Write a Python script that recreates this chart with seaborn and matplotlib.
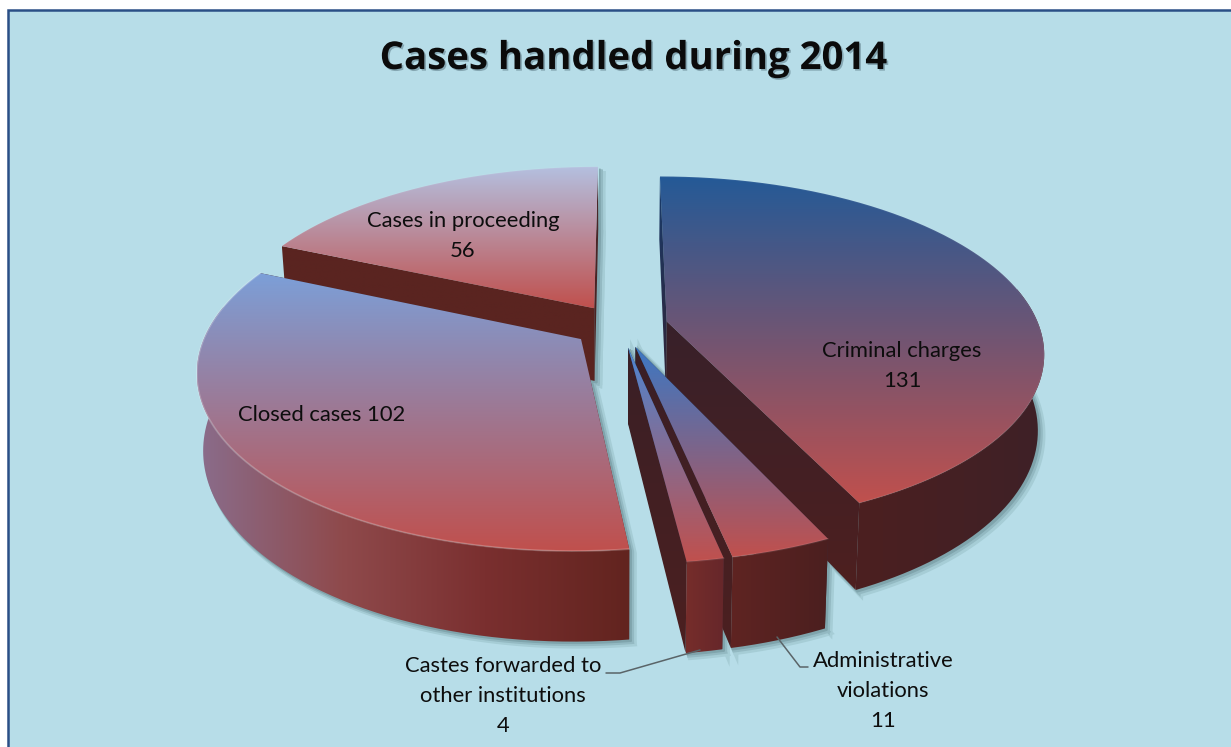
import numpy as np
import matplotlib
matplotlib.use("Agg")
import matplotlib.pyplot as plt
import matplotlib.patheffects as pe
from matplotlib.patches import PathPatch, Rectangle
from matplotlib.path import Path
import seaborn as sns

# Case counts for the year
categories = ["Criminal charges", "Administrative violations",
              "Castes forwarded to other institutions", "Closed cases", "Cases in proceeding"]
values = [131, 11, 4, 102, 56]
title_text = "Cases handled during 2014"

# Top-face gradient start colours and the wall shading of every slice
top_colors = ["#245a97", "#3c78c4", "#4d86d2", "#7c9fd8", "#b4c0e0"]
red_end = "#c0504d"
wall_colors = [["#4c1f20", "#3e2127"], ["#5f2422", "#4b1f1f"], ["#762d2b", "#66272a"],
               ["#8a6d8c", "#8f4a4c", "#7a2f2f", "#62241f"], ["#4b2b2d", "#52211f"]]
cut_colors = [
    (["#173c6c", "#342232"], ["#38212a", "#4e1f1f"]),
    (["#14406f", "#4c2226"], ["#3a2026", "#4c1f20"]),
    (["#13457c", "#4a2428"], ["#3a2026", "#4c1f20"]),
    (["#62241f", "#62241f"], ["#4b2b2d", "#52211f"]),
    (["#5a2420", "#5a2420"], ["#47282b", "#4f201e"]),
]
rim_glow = [0.05, 0.08, 0.08, 0.22, 0.05]
draw_order = [4, 3, 0, 1, 2]

sns.set_theme(style="white")
plt.rcParams["font.family"] = ["Lato", "DejaVu Sans"]

fig = plt.figure(figsize=(12.31, 7.47), dpi=100, facecolor="white")
ax = fig.add_axes([0, 0, 1, 1])
ax.set_axis_off()
ax.add_patch(Rectangle((8, 10), 1240, 760, fc="#b7dde8", ec="#2a4f86", lw=1.8, zorder=0))

# Perspective model of the tilted pie
CX, CY = 620.0, 326.0
RADIUS, EXPLODE, X_SQUEEZE = 380.0, 48.0, 0.98
PERSP, TILT, DEPTH, FLOOR_SCALE = 0.17, 0.45, 74.0, 0.985


def project(px, pv, lowered=False):
    s = 1.0 / (1.0 + PERSP * pv / RADIUS)
    x, y = CX + px * s, CY - TILT * pv * s
    if lowered:
        x, y = CX + (x - CX) * FLOOR_SCALE, y + DEPTH * s
    return np.column_stack([x, y])


def gradient_fill(poly, colors, vertical, z):
    cmap = sns.blend_palette(colors, as_cmap=True)
    ramp = np.linspace(0, 1, 256)
    grid = ramp[:, None] if vertical else ramp[None, :]
    patch = PathPatch(Path(np.vstack([poly, poly[:1]])), fc="none", ec="none",
                      transform=ax.transData, zorder=z)
    ax.add_patch(patch)
    x0, y0 = poly.min(axis=0)
    x1, y1 = poly.max(axis=0)
    im = ax.imshow(grid, extent=[x0, x1, y1, y0], cmap=cmap, vmin=0, vmax=1,
                   aspect="auto", interpolation="bilinear", zorder=z)
    im.set_clip_path(patch)


total = sum(values)
edges = np.radians(np.cumsum([0] + values) / total * 360.0)

slices = []
for i in range(len(values)):
    t0, t1 = edges[i], edges[i + 1]
    mid = (t0 + t1) / 2
    ox, ov = EXPLODE * np.sin(mid), EXPLODE * np.cos(mid)
    theta = np.linspace(t0, t1, 200)
    rx, rv = ox + X_SQUEEZE * RADIUS * np.sin(theta), ov + RADIUS * np.cos(theta)
    ox_a, ov_a = np.array([ox]), np.array([ov])
    slices.append(dict(
        rim=project(rx, rv), rim_low=project(rx, rv, True),
        front=np.cos(theta) < 0.2,
        apex=project(ox_a, ov_a), apex_low=project(ox_a, ov_a, True)))

# Soft drop shadow underneath all slices
shift = np.array([0.8, 0.7])
for off, width, colour in [(6, 4, "#a6cdd6"), (4, 2.5, "#93b9c2"), (2.5, 1, "#7fa4ac")]:
    for sl in slices:
        floor = np.vstack([sl["rim_low"], sl["apex_low"]]) + off * shift
        ax.fill(floor[:, 0], floor[:, 1], fc=colour, ec=colour, lw=width, zorder=1)
        for k in (0, -1):
            c = np.vstack([sl["apex"], sl["rim"][[k]], sl["rim_low"][[k]], sl["apex_low"]]) + off * shift
            ax.fill(c[:, 0], c[:, 1], fc=colour, ec=colour, lw=width, zorder=1)

# Slices from back to front
z = 2.0
for i in draw_order:
    sl = slices[i]
    start_cut = np.vstack([sl["apex"], sl["rim"][:1], sl["rim_low"][:1], sl["apex_low"]])
    end_cut = np.vstack([sl["apex"], sl["rim"][-1:], sl["rim_low"][-1:], sl["apex_low"]])
    gradient_fill(start_cut, cut_colors[i][0], True, z)
    gradient_fill(end_cut, cut_colors[i][1], True, z + 0.1)
    if sl["front"].sum() > 1:
        wall = np.vstack([sl["rim"][sl["front"]], sl["rim_low"][sl["front"]][::-1]])
        gradient_fill(wall, wall_colors[i], False, z + 0.2)
    top = np.vstack([sl["apex"], sl["rim"]])
    gradient_fill(top, [top_colors[i], red_end], True, z + 0.3)
    ax.plot(sl["rim"][:, 0], sl["rim"][:, 1], color="white", alpha=rim_glow[i], lw=1.3, zorder=z + 0.4)
    z += 1

# Data labels
label_style = dict(ha="center", va="center", fontsize=15.8, color="#0d0d0d", linespacing=1.6, zorder=20)
ax.text(902, 366, f"{categories[0]}\n{values[0]}", **label_style)
ax.text(883, 691, f"Administrative\nviolations\n{values[1]}", **label_style)
ax.text(503, 696, f"Castes forwarded to\nother institutions\n{values[2]}", **label_style)
ax.text(322, 415, f"{categories[3]} {values[3]}", **label_style)
ax.text(463, 236, f"{categories[4]}\n{values[4]}", **label_style)

# Leader lines for the two narrow slices
ax.plot([606, 620, 700], [673, 673, 650], color="#5a6468", lw=1.1, zorder=19)
ax.plot([777, 800, 808], [637, 667, 667], color="#5a6468", lw=1.1, zorder=19)

title = ax.text(634, 59, title_text, ha="center", va="center", fontsize=27.6,
                fontweight="bold", family=["Open Sans", "DejaVu Sans"], color="#0b0b0b", zorder=20)
title.set_path_effects([pe.withSimplePatchShadow(offset=(1.2, -1.2), shadow_rgbFace="#2a4450", alpha=0.35)])

ax.set_xlim(0, 1231)
ax.set_ylim(747, 0)
fig.savefig("out.png", dpi=100, facecolor="white")
